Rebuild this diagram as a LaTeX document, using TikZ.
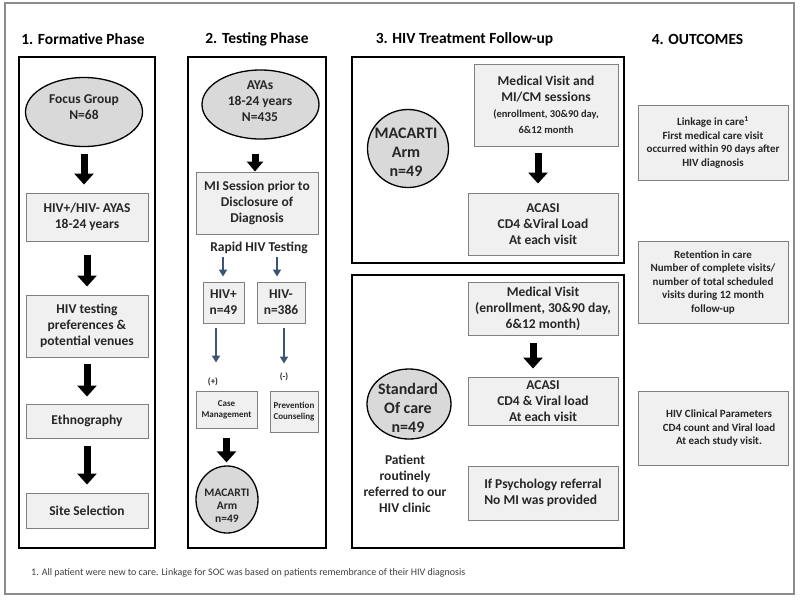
\documentclass[tikz,border=0pt]{standalone}
\usepackage{fontspec}
\setmainfont{Carlito}
\usetikzlibrary{arrows.meta,shapes.geometric,shadows}
\definecolor{bluec}{RGB}{59,85,115}
\newcommand\szTitle{\fontsize{15.5}{18}\selectfont\bfseries}
\newcommand\szBody{\fontsize{13.5}{16}\selectfont\bfseries}
\newcommand\szMid{\fontsize{10.5}{12.5}\selectfont\bfseries}
\newcommand\szTiny{\fontsize{9}{11}\selectfont\bfseries}
\newcommand\szCirc{\fontsize{16}{19}\selectfont\bfseries}
\newcommand\szCircS{\fontsize{11.5}{13}\selectfont\bfseries}
\newcommand\szOut{\fontsize{11}{13.5}\selectfont\bfseries}
\newcommand\szFoot{\fontsize{10}{12}\selectfont\mdseries}
\begin{document}
\begin{tikzpicture}[x=1pt,y=-1pt,
  frame/.style={draw=black,line width=2.6pt},
  gbox/.style={draw=black!50,line width=0.9pt,fill=black!6,inner sep=0pt,align=center,text=black!85,
    drop shadow={shadow xshift=1.3pt,shadow yshift=-1.3pt,fill=black!65,opacity=1}},
  oval/.style={ellipse,draw=black,line width=1.3pt,fill=black!15,inner sep=0pt},
  tx/.style={inner sep=0pt,align=center,text=black!85},
  big/.style={line width=7pt,-{Triangle[width=19pt,length=11pt]}},
  mid/.style={line width=7pt,-{Triangle[width=16pt,length=10pt]}},
  bluearr/.style={draw=bluec,line width=2.2pt,-{Triangle[width=8pt,length=7pt]}}]
\useasboundingbox (0,0) rectangle (800,603);
\fill[white] (0,0) rectangle (800,603);
\draw[draw=black!45,line width=1.2pt] (5,3) rectangle (794,594);

% frames
\draw[frame] (19,57) rectangle (155,548);
\draw[frame] (188,57) rectangle (326,548);
\draw[frame] (352,57) rectangle (624,263);
\draw[frame] (352,275) rectangle (624,548);

% titles
\node[tx,font=\szTitle,text=black] (t1) at (83,39) {1. Formative Phase};
\node[tx,font=\szTitle,text=black] (t2) at (257,39) {2. Testing Phase};
\node[tx,font=\szTitle,text=black] (t3) at (464.5,39) {3. HIV Treatment Follow-up};
\node[tx,font=\szTitle,text=black] (t4) at (697.5,39) {4. OUTCOMES};

% column 1
\node[oval,minimum width=117pt,minimum height=69pt] (fg) at (84,112) {};
\node[tx,font=\szBody] (fgt) at (84,107) {Focus Group\\N=68};
\node[gbox,minimum width=122pt,minimum height=48pt,font=\szBody] (b1) at (87,217) {HIV+/HIV- AYAS\\18-24 years};
\node[gbox,minimum width=122pt,minimum height=62pt,font=\szBody] (b2) at (87,326) {HIV testing\\preferences \&\\potential venues};
\node[gbox,minimum width=122pt,minimum height=34pt,font=\szBody] (b3) at (87,421) {Ethnography};
\node[gbox,minimum width=122pt,minimum height=35pt,font=\szBody] (b4) at (87,510.5) {Site Selection};
\draw[big,shorten <=6.5pt,shorten >=8pt] (fg.south) -- (fg.south |- b1.north);
\draw[big,shorten <=14pt,shorten >=8pt] (b1.south) -- (b2.north);
\draw[big,shorten <=7pt,shorten >=7pt] (b2.south) -- (b3.north);
\draw[big,shorten <=8pt,shorten >=8pt] (b3.south) -- (b4.north);

% column 2
\node[oval,minimum width=117pt,minimum height=69pt] (ayas) at (260.5,104.5) {};
\node[tx,font=\szBody] (ayast) at (260,101) {AYAs\\18-24 years\\N=435};
\node[gbox,minimum width=122pt,minimum height=62pt,font=\szBody] (mi) at (257,203) {MI Session prior to\\Disclosure of\\Diagnosis};
\coordinate (a2) at (255,0);
\draw[mid,shorten <=14pt] (a2 |- ayas.south) -- (a2 |- mi.north);
\node[tx,font=\szBody] (rapid) at (259,248) {Rapid HIV Testing};
\node[gbox,minimum width=41pt,minimum height=41pt,font=\szBody] (hivp) at (223.5,302.5) {HIV+\\n=49};
\node[gbox,minimum width=48pt,minimum height=41pt,font=\szBody] (hivn) at (281,302.5) {HIV-\\n=386};
\coordinate (r1) at (223,0);
\coordinate (r2) at (277,0);
\draw[bluearr,shorten <=3pt,shorten >=5pt] (r1 |- rapid.south) -- (r1 |- hivp.north);
\draw[bluearr,shorten <=3pt,shorten >=5pt] (r2 |- rapid.south) -- (r2 |- hivn.north);
\node[tx,font=\szTiny] (plus) at (213,382) {(+)};
\node[tx,font=\szTiny] (minus) at (284,377) {(-)};
\node[gbox,minimum width=61pt,minimum height=37pt,font=\szTiny] (cm) at (226.5,409.5) {Case\\Management};
\node[gbox,minimum width=48pt,minimum height=41pt,font=\szTiny] (pc) at (294,411.5) {Prevention\\Counseling};
\coordinate (r3) at (216,0);
\coordinate (r4) at (284,0);
\draw[bluearr,shorten <=5pt,shorten >=28pt] (r3 |- hivp.south) -- (r3 |- cm.north);
\draw[bluearr,shorten <=5pt,shorten >=27pt] (r4 |- hivn.south) -- (r4 |- pc.north);
\node[oval,minimum width=62pt,minimum height=67pt] (mac2) at (227,499.5) {};
\node[tx,font=\szCircS] (mac2t) at (227,506) {MACARTI\\Arm\\n=49};
\draw[big,shorten <=10pt,shorten >=3pt] (cm.south) -- (cm.south |- mac2.north);

% column 3 top
\node[oval,minimum width=81pt,minimum height=78pt] (mac1) at (408,148.5) {};
\node[tx,font=\szCirc] (mac1t) at (406,152) {MACARTI\\Arm\\n=49};
\node[gbox,minimum width=144pt,minimum height=82pt,font=\szBody] (mv1) at (546,105) {Medical Visit and\\MI/CM sessions\\{\szMid (enrollment, 30\&90 day,}\\{\szMid 6\&12 month}};
\node[gbox,minimum width=150pt,minimum height=62pt,font=\szBody] (ac1) at (543,224) {ACASI\\CD4 \&Viral Load\\At each visit};
\coordinate (a3) at (538,0);
\draw[big,shorten <=7pt,shorten >=9pt] (a3 |- mv1.south) -- (a3 |- ac1.north);

% column 3 bottom
\node[oval,minimum width=84pt,minimum height=70pt] (soc) at (409,404) {};
\node[tx,font=\szCirc] (soct) at (408,408) {Standard\\Of care\\n=49};
\node[tx,font=\szBody] (pat) at (405,484) {Patient\\routinely\\referred to our\\HIV clinic};
\node[gbox,minimum width=150pt,minimum height=53pt,font=\szBody] (mv2) at (543,308.5) {Medical Visit\\(enrollment, 30\&90 day,\\6\&12 month)};
\node[gbox,minimum width=150pt,minimum height=48pt,font=\szBody] (ac2) at (543,401) {ACASI\\CD4 \& Viral load\\At each visit};
\node[gbox,minimum width=150pt,minimum height=54pt,font=\szBody,align=left] (psy) at (543,493) {If Psychology referral\\No MI was provided};
\coordinate (a4) at (533,0);
\draw[big,shorten <=8pt,shorten >=8pt] (a4 |- mv2.south) -- (a4 |- ac2.north);

% column 4
\node[gbox,minimum width=150pt,minimum height=75pt,font=\szOut] (o1) at (713,142.5) {Linkage in care\textsuperscript{1}\\First medical care visit\\occurred within 90 days after\\HIV diagnosis};
\node[gbox,minimum width=150pt,minimum height=82pt,font=\szOut] (o2) at (713,282) {Retention in care\\Number of complete visits/\\number of total scheduled\\visits during 12 month\\follow-up};
\node[gbox,minimum width=150pt,minimum height=74pt,font=\szOut] (o3) at (713,428) {\hspace*{12pt}HIV Clinical Parameters\\\hspace*{12pt}CD4 count and Viral load\\\hspace*{12pt}At each study visit.};

% footnote
\node[anchor=west,inner sep=0pt,font=\szFoot,text=black!75] (fn) at (31,573) {1. All patient were new to care. Linkage for SOC was based on patients remembrance of their HIV diagnosis};
\end{tikzpicture}
\end{document}
